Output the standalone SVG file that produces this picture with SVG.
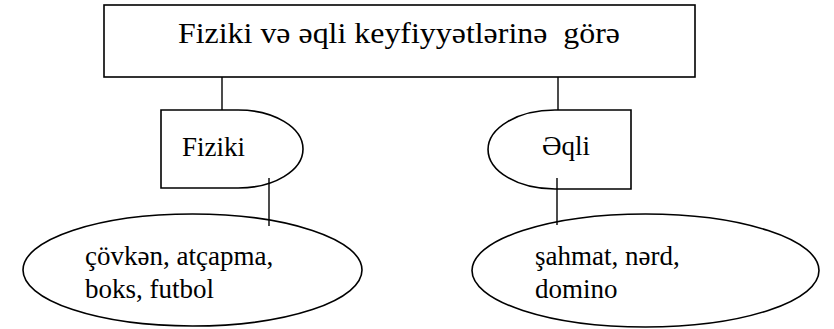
<svg xmlns="http://www.w3.org/2000/svg" width="834" height="329" viewBox="0 0 834 329">
<style>
.s{fill:#fff;stroke:#000;stroke-width:1.6}
.c{fill:none;stroke:#000;stroke-width:1.4}
text{font-family:"Liberation Serif","Times New Roman",serif;fill:#000}
.t{font-size:27px}
</style>
<rect width="834" height="329" fill="#fff"/>
<g id="title">
<rect class="s" x="104" y="5" width="591" height="72"/>
<text x="178" y="43" font-size="30" textLength="442" lengthAdjust="spacingAndGlyphs" xml:space="preserve">Fiziki və əqli keyfiyyətlərinə  görə</text>
</g>
<g id="fiziki">
<path class="s" d="M161,110 H238 A65,39 0 0 1 238,188 H161 Z"/>
<text class="t" x="182" y="156">Fiziki</text>
</g>
<g id="eqli">
<path class="s" d="M631,110 H555 A67,39.5 0 0 0 555,189 H631 Z"/>
<text class="t" x="542" y="155">Əqli</text>
</g>
<g id="fiziki-list">
<ellipse class="s" cx="192.5" cy="270" rx="169.5" ry="56"/>
<text class="t" x="85" y="265">çövkən, atçapma,</text>
<text class="t" x="85" y="298">boks, futbol</text>
</g>
<g id="eqli-list">
<ellipse class="s" cx="645.5" cy="270.5" rx="173.5" ry="56.5"/>
<text class="t" x="535" y="265">şahmat, nərd,</text>
<text class="t" x="535" y="298">domino</text>
</g>
<g id="connectors">
<path class="c" d="M222,77 V110 M558,77 V110 M269,178 V226 M557,178 V225"/>
</g>
</svg>
